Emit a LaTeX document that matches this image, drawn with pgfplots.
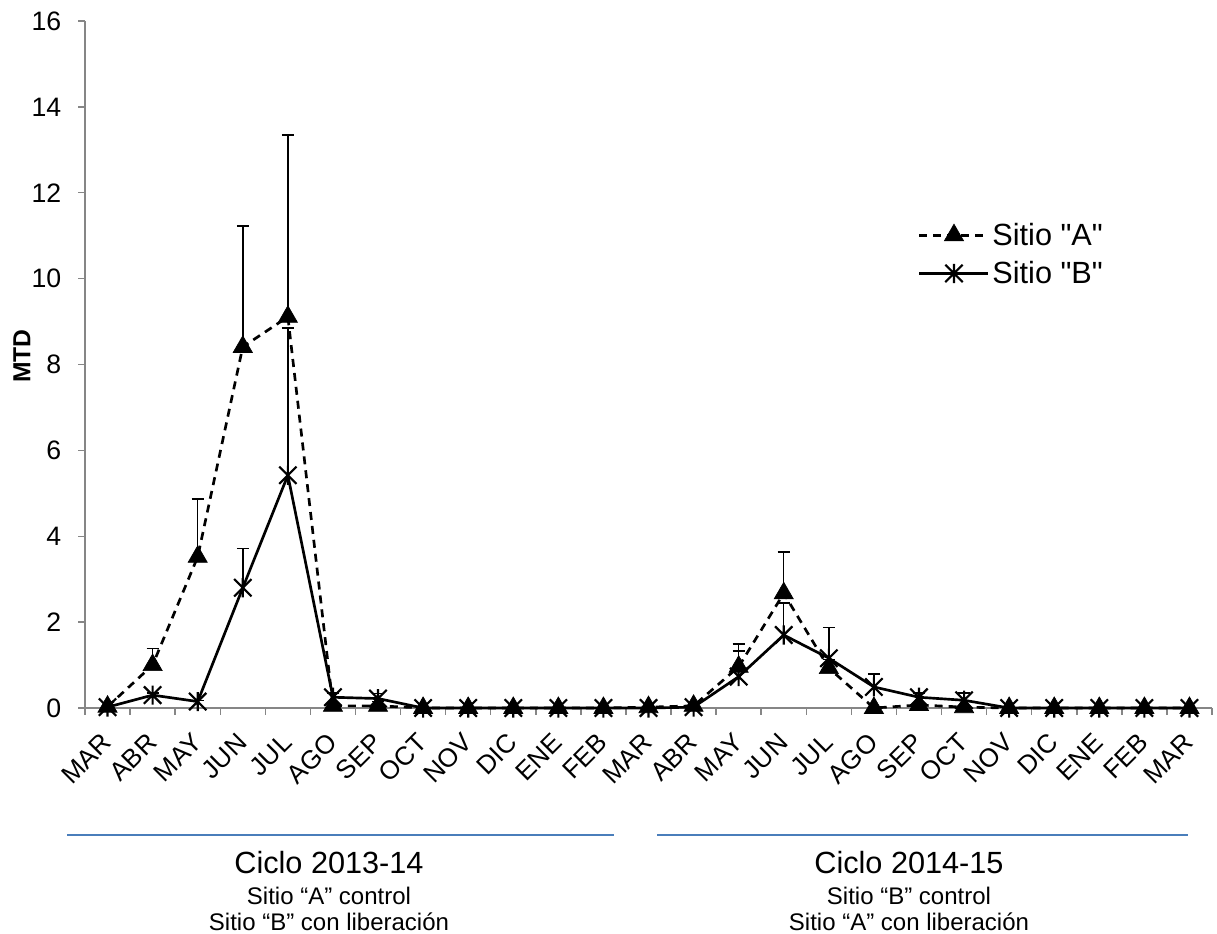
\documentclass[border=0pt]{standalone}
\usepackage{pgfplots}
\usepackage{pgfplotstable}
\usepackage{fontspec}
\setmainfont{Liberation Sans}
\newfontfamily\legfont{Liberation Sans}
\pgfplotsset{compat=1.18}
\definecolor{xlblue}{RGB}{74,126,187}
\definecolor{axgray}{RGB}{134,134,134}

\pgfdeclareplotmark{xstar}{%
 \pgfpathmoveto{\pgfqpoint{-\pgfplotmarksize}{-\pgfplotmarksize}}%
 \pgfpathlineto{\pgfqpoint{\pgfplotmarksize}{\pgfplotmarksize}}%
 \pgfpathmoveto{\pgfqpoint{-\pgfplotmarksize}{\pgfplotmarksize}}%
 \pgfpathlineto{\pgfqpoint{\pgfplotmarksize}{-\pgfplotmarksize}}%
 \pgfpathmoveto{\pgfqpoint{0pt}{-1.1\pgfplotmarksize}}%
 \pgfpathlineto{\pgfqpoint{0pt}{1.1\pgfplotmarksize}}%
 \pgfusepathqstroke}

\pgfplotstableread{
x y e
0 0.03 0
1 1.00 0.38
2 3.52 1.35
3 8.41 2.81
4 9.11 4.24
5 0.05 0.05
6 0.05 0.10
7 0 0
8 0 0
9 0 0
10 0 0
11 0 0
12 0.02 0
13 0.05 0.05
14 0.96 0.53
15 2.67 0.96
16 0.93 0.20
17 0.00 0
18 0.07 0.05
19 0.02 0.02
20 0 0
21 0 0
22 0 0
23 0 0
24 0 0
}\siteA

\pgfplotstableread{
x y e
0 0.02 0
1 0.30 0.05
2 0.15 0.03
3 2.80 0.92
4 5.42 3.43
5 0.25 0.10
6 0.22 0.12
7 0 0
8 0 0
9 0 0
10 0 0
11 0 0
12 0 0
13 0.02 0
14 0.73 0.60
15 1.70 0.75
16 1.16 0.71
17 0.49 0.30
18 0.25 0.10
19 0.18 0.17
20 0 0
21 0 0
22 0 0
23 0 0
24 0 0
}\siteB

\begin{document}
\begin{tikzpicture}
\useasboundingbox (0pt,0pt) rectangle (912.75pt,700.5pt);
\begin{axis}[
  at={(63.75pt,169.5pt)}, anchor=south west,
  scale only axis, width=845.25pt, height=515.25pt,
  xmin=-0.5, xmax=24.5, ymin=0, ymax=16,
  clip=false,
  axis x line=bottom, axis y line=left,
  axis line style={-, draw=axgray, line width=1.1pt},
  tick align=outside,
  major tick length=5.25pt, minor tick length=5.25pt,
  every tick/.style={draw=axgray, line width=1.1pt},
  every major x tick/.append style={draw opacity=0},
  ytick={0,2,...,16},
  xtick={0,...,24},
  minor xtick={-0.5,0.5,...,24.5},
  xticklabels={MAR,ABR,MAY,JUN,JUL,AGO,SEP,OCT,NOV,DIC,ENE,FEB,MAR,ABR,MAY,JUN,JUL,AGO,SEP,OCT,NOV,DIC,ENE,FEB,MAR},
  /pgf/number format/assume math mode=true,
  yticklabel style={font=\fontsize{20}{24}\selectfont, xshift=-9pt},
  xticklabel style={font=\fontsize{19.5}{23}\selectfont, xshift=2pt, yshift=-15pt, rotate=45, anchor=east},
  ylabel={MTD},
  ylabel style={at={(axis description cs:-0.0559,0.512)}, anchor=center, font=\bfseries\fontsize{18.5}{22}\selectfont},
  legend cell align=left,
  legend style={draw=none, fill=none, at={(axis description cs:0.739,0.710)}, anchor=north west,
    font=\legfont\fontsize{23}{27}\selectfont, row sep=6.5pt, inner sep=0pt},
  legend image code/.code={\draw[mark repeat=2,mark phase=2] plot coordinates {(0pt,0pt)(25.9pt,0pt)(51.75pt,0pt)};},
]
\addplot[black, line width=2pt, dash pattern=on 6pt off 4.5pt,
  mark=triangle*, mark size=8.3pt, mark options={solid, fill=black, line width=0.5pt},
  error bars/.cd, y dir=plus, y explicit,
  error bar style={solid, line width=1.1pt, black},
  error mark options={rotate=90, mark size=4.5pt, line width=1.1pt, solid}]
  table[x=x, y=y, y error=e]{\siteA};
\addlegendentry{Sitio "A"}
\addplot[black, line width=2pt,
  mark=xstar, mark size=6.5pt, mark options={solid, line width=1.6pt},
  error bars/.cd, y dir=plus, y explicit,
  error bar style={solid, line width=1.1pt, black},
  error mark options={rotate=90, mark size=4.5pt, line width=1.1pt, solid}]
  table[x=x, y=y, y error=e]{\siteB};
\addlegendentry{Sitio "B"}
\end{axis}
\draw[xlblue, line width=1.5pt] (50.25pt,74.25pt) -- (460.5pt,74.25pt);
\draw[xlblue, line width=1.5pt] (492.75pt,74.25pt) -- (891pt,74.25pt);
\begin{scope}[every node/.style={inner sep=0pt}]
\node[font=\fontsize{23}{27}\selectfont] at (246.75pt,53.25pt) {Ciclo 2013-14};
\node[font=\fontsize{18}{21.6}\selectfont] at (246.75pt,28.5pt) {Sitio “A” control};
\node[font=\fontsize{18}{21.6}\selectfont] at (246.75pt,9pt) {Sitio “B” con liberación};
\node[font=\fontsize{23}{27}\selectfont] at (681.75pt,53.25pt) {Ciclo 2014-15};
\node[font=\fontsize{18}{21.6}\selectfont] at (681.75pt,28.5pt) {Sitio “B” control};
\node[font=\fontsize{18}{21.6}\selectfont] at (681.75pt,9pt) {Sitio “A” con liberación};
\end{scope}
\end{tikzpicture}
\end{document}
